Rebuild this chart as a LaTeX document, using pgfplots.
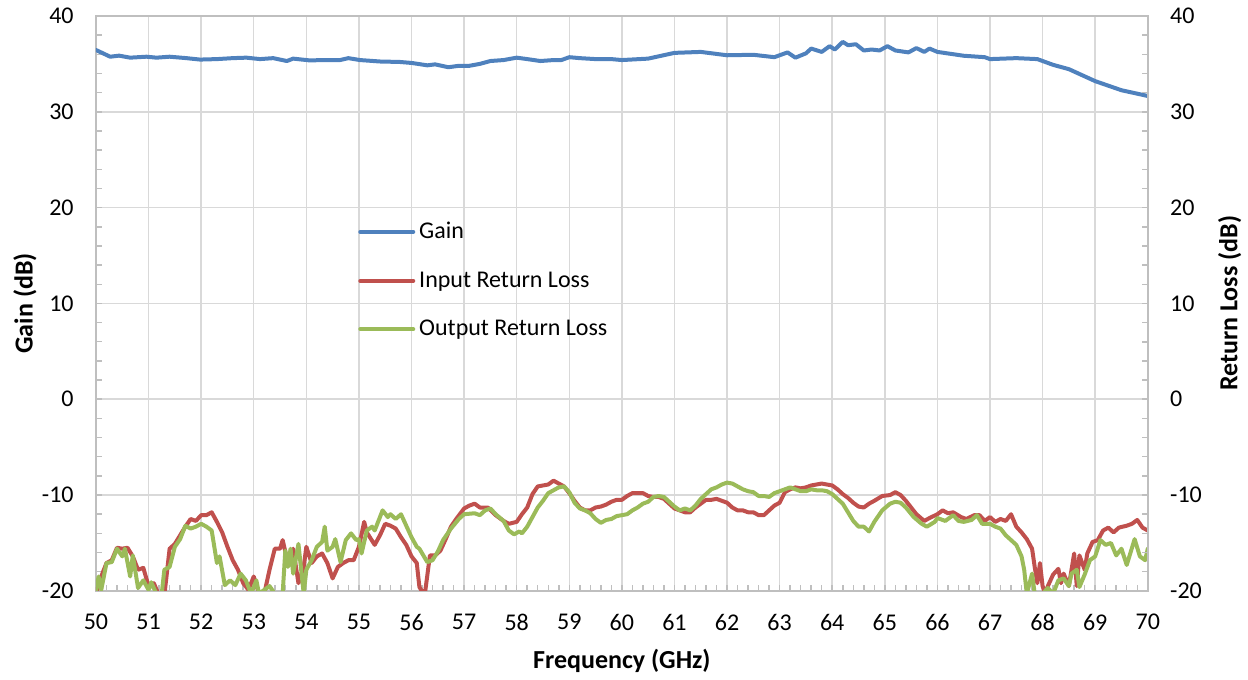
\documentclass[border=0pt]{standalone}
\usepackage{fontspec}
\setmainfont{Carlito}
\usepackage{pgfplots}
\pgfplotsset{compat=1.18}
\definecolor{gainblue}{HTML}{4F81BD}
\definecolor{inred}{HTML}{C0504D}
\definecolor{outgreen}{HTML}{9BBB59}
\definecolor{gridgray}{HTML}{D9D9D9}
\definecolor{axisgray}{HTML}{BFBFBF}
\begin{document}
\begin{tikzpicture}
\pgfplotsset{
  common/.style={
    scale only axis, width=526bp, height=287.5bp,
    xmin=50, xmax=70, ymin=-20, ymax=40,
    ytick={-20,-10,...,40},
    minor y tick num=4,
    tick align=inside,
    major tick length=3bp, minor tick length=3bp,
    tick style={color=axisgray, line width=0.75bp},
    axis line style={color=axisgray, line width=0.75bp},
    /pgf/number format/assume math mode=true,
    tick label style={font=\fontsize{12bp}{14bp}\selectfont, inner sep=0pt},
  }
}
\begin{axis}[common, name=main,
  xtick={50,51,...,70},
  minor x tick num=4,
  xtick pos=bottom, ytick pos=left,
  grid=major,
  major grid style={color=gridgray, line width=0.75bp},
  xticklabel style={anchor=north, yshift=-11.5bp},
  yticklabel style={anchor=east, xshift=-11bp},
  xlabel={\bfseries Frequency (GHz)},
  ylabel={\bfseries Gain (dB)},
  label style={font=\fontsize{13bp}{15bp}\selectfont},
  xlabel style={at={([yshift=-35bp]axis description cs:0.5,0)}, anchor=center},
  ylabel style={at={([xshift=-35.5bp]axis description cs:0,0.5)}, anchor=center},
  legend style={at={(rel axis cs:0.249,0.649)}, anchor=north west, draw=none, fill=none,
    inner sep=0pt, row sep=11bp, font=\fontsize{12bp}{14bp}\selectfont},
  legend cell align=left,
  /tikz/every even column/.append style={column sep=0pt},
  legend image code/.code={\draw[#1] (0bp,0bp) -- (26.5bp,0bp);},
  every axis plot/.append style={line width=2bp, line join=round, line cap=round},
]
\addplot[gainblue] coordinates {
(50.0,36.45) (50.27,35.75) (50.44,35.86) (50.65,35.65) (50.96,35.75) (51.15,35.65)
(51.4,35.75) (51.72,35.6) (51.98,35.45) (52.3,35.5) (52.6,35.6) (52.86,35.65)
(53.12,35.5) (53.37,35.6) (53.63,35.3) (53.75,35.55) (54.07,35.36) (54.3,35.4)
(54.64,35.4) (54.8,35.6) (55.02,35.4) (55.4,35.25) (55.78,35.2) (56.0,35.1)
(56.3,34.85) (56.45,34.95) (56.7,34.65) (56.9,34.8) (57.1,34.8) (57.3,35.0)
(57.5,35.3) (57.75,35.4) (58.0,35.65) (58.2,35.5) (58.45,35.3) (58.7,35.4)
(58.85,35.4) (59.0,35.7) (59.2,35.6) (59.5,35.5) (59.8,35.5) (60.0,35.4)
(60.5,35.55) (61.0,36.15) (61.5,36.25) (62.0,35.9) (62.5,35.95) (62.9,35.7)
(63.15,36.2) (63.3,35.65) (63.5,36.1) (63.6,36.6) (63.8,36.25) (63.95,36.85)
(64.05,36.5) (64.2,37.3) (64.3,36.95) (64.45,37.05) (64.6,36.4) (64.75,36.5)
(64.9,36.4) (65.05,36.85) (65.2,36.4) (65.45,36.2) (65.6,36.65) (65.75,36.25)
(65.85,36.6) (66.0,36.25) (66.5,35.85) (66.9,35.7) (67.0,35.5) (67.5,35.6)
(67.9,35.5) (68.2,34.9) (68.5,34.45) (69.0,33.2) (69.5,32.25) (70.0,31.65)
};
\addlegendentry{Gain}
\addplot[inred] coordinates {
(50.0,-20.3) (50.1,-18.5) (50.2,-17.1) (50.3,-16.8) (50.4,-15.5) (50.5,-15.6)
(50.6,-15.5) (50.7,-16.4) (50.8,-17.8) (50.9,-17.6) (51.0,-19.5) (51.1,-19.2)
(51.2,-20.5) (51.3,-20.5) (51.4,-15.6) (51.5,-15.1) (51.6,-14.2) (51.7,-13.3)
(51.8,-12.5) (51.9,-12.7) (52.0,-12.1) (52.1,-12.1) (52.2,-11.8) (52.3,-12.8)
(52.4,-13.9) (52.5,-15.4) (52.6,-16.8) (52.7,-17.8) (52.8,-19.2) (52.9,-19.9)
(53.0,-18.5) (53.1,-20.3) (53.2,-20.3) (53.3,-17.8) (53.4,-15.6) (53.5,-15.6)
(53.55,-14.7) (53.65,-17.1) (53.75,-15.6) (53.85,-19.2) (53.95,-17.5) (54.0,-15.4)
(54.1,-17.1) (54.2,-16.4) (54.3,-16.1) (54.4,-17.1) (54.5,-18.7) (54.6,-17.5)
(54.7,-17.1) (54.8,-16.8) (54.9,-16.8) (55.0,-15.4) (55.1,-12.8) (55.15,-13.9)
(55.3,-15.2) (55.4,-14.2) (55.5,-13.0) (55.6,-13.2) (55.7,-13.5) (55.8,-14.4)
(55.9,-15.2) (56.0,-16.4) (56.1,-17.1) (56.15,-19.6) (56.25,-20.5) (56.35,-16.3)
(56.45,-16.3) (56.55,-15.8) (56.65,-14.6) (56.75,-13.3) (56.85,-12.5) (57.0,-11.4)
(57.1,-11.1) (57.2,-10.9) (57.3,-11.3) (57.45,-11.3) (57.6,-12.1) (57.75,-12.7)
(57.85,-13.0) (58.0,-12.8) (58.1,-12.0) (58.2,-11.3) (58.3,-9.9) (58.4,-9.1)
(58.5,-9.0) (58.6,-8.9) (58.7,-8.5) (58.8,-8.8) (58.9,-9.1) (59.0,-9.8)
(59.1,-10.6) (59.2,-11.3) (59.3,-11.6) (59.4,-11.6) (59.5,-11.3) (59.6,-11.2)
(59.7,-11.0) (59.8,-10.7) (59.9,-10.5) (60.0,-10.5) (60.1,-10.1) (60.2,-9.8)
(60.3,-9.8) (60.4,-9.8) (60.5,-10.1) (60.6,-10.2) (60.7,-10.2) (60.8,-10.4)
(60.9,-10.9) (61.0,-11.4) (61.1,-11.6) (61.2,-11.8) (61.3,-11.8) (61.4,-11.3)
(61.5,-10.9) (61.6,-10.5) (61.7,-10.5) (61.8,-10.4) (61.9,-10.6) (62.0,-10.8)
(62.1,-11.3) (62.2,-11.6) (62.3,-11.6) (62.4,-11.8) (62.5,-11.8) (62.6,-12.1)
(62.7,-12.1) (62.8,-11.6) (62.9,-11.1) (63.0,-10.8) (63.1,-9.7) (63.2,-9.4)
(63.3,-9.2) (63.4,-9.3) (63.5,-9.2) (63.6,-9.0) (63.7,-8.9) (63.8,-8.8)
(63.9,-8.9) (64.0,-9.0) (64.1,-9.4) (64.2,-9.9) (64.3,-10.3) (64.4,-10.8)
(64.5,-11.2) (64.6,-11.3) (64.7,-10.9) (64.8,-10.6) (64.95,-10.1) (65.1,-10.0)
(65.2,-9.7) (65.3,-10.0) (65.4,-10.6) (65.5,-11.3) (65.6,-12.0) (65.75,-12.7)
(65.85,-12.4) (66.0,-12.0) (66.1,-11.6) (66.2,-11.9) (66.3,-11.8) (66.45,-12.3)
(66.55,-12.5) (66.7,-12.1) (66.8,-12.1) (66.9,-12.7) (67.0,-12.3) (67.1,-12.8)
(67.2,-12.5) (67.3,-12.7) (67.4,-12.0) (67.5,-13.3) (67.6,-13.9) (67.7,-14.6)
(67.8,-15.6) (67.85,-17.5) (67.9,-19.2) (67.95,-17.1) (68.0,-19.5) (68.05,-20.3)
(68.1,-19.5) (68.2,-18.3) (68.3,-17.7) (68.35,-19.2) (68.4,-18.2) (68.5,-19.5)
(68.55,-17.8) (68.6,-16.1) (68.65,-19.5) (68.7,-16.3) (68.8,-17.8) (68.85,-16.1)
(68.95,-14.9) (69.05,-14.7) (69.15,-13.7) (69.25,-13.4) (69.35,-13.9) (69.45,-13.4)
(69.6,-13.2) (69.7,-13.0) (69.8,-12.6) (69.9,-13.4) (70.0,-13.7)
};
\addlegendentry{Input Return Loss}
\addplot[outgreen] coordinates {
(50.0,-20.0) (50.05,-18.5) (50.1,-19.9) (50.2,-17.1) (50.3,-17.0) (50.4,-15.6)
(50.5,-16.4) (50.55,-15.6) (50.65,-18.5) (50.7,-16.3) (50.8,-19.7) (50.9,-18.9)
(51.0,-19.9) (51.05,-19.1) (51.15,-20.3) (51.25,-20.3) (51.3,-17.8) (51.4,-17.5)
(51.5,-15.4) (51.6,-14.6) (51.7,-13.2) (51.8,-13.5) (51.9,-13.3) (52.0,-13.0)
(52.1,-13.3) (52.2,-13.7) (52.3,-17.1) (52.35,-16.4) (52.45,-19.4) (52.55,-18.9)
(52.65,-19.4) (52.75,-18.2) (52.85,-18.9) (52.95,-20.3) (53.05,-18.9) (53.1,-20.3)
(53.3,-19.5) (53.4,-20.3) (53.55,-20.3) (53.6,-15.8) (53.65,-17.5) (53.7,-15.6)
(53.75,-18.2) (53.85,-15.1) (53.95,-20.3) (54.0,-17.8) (54.1,-16.8) (54.2,-15.4)
(54.3,-14.9) (54.35,-13.3) (54.4,-15.8) (54.5,-15.4) (54.55,-14.6) (54.65,-17.0)
(54.75,-14.7) (54.85,-14.0) (54.95,-14.7) (55.0,-14.6) (55.05,-16.1) (55.15,-13.7)
(55.25,-13.3) (55.3,-13.7) (55.45,-11.6) (55.55,-12.3) (55.6,-12.0) (55.7,-12.5)
(55.8,-12.0) (55.9,-13.2) (56.0,-14.4) (56.1,-15.4) (56.15,-15.6) (56.3,-17.0)
(56.4,-16.8) (56.5,-15.9) (56.6,-14.7) (56.75,-13.5) (56.9,-12.5) (57.0,-12.0)
(57.2,-11.9) (57.3,-12.1) (57.4,-11.6) (57.5,-11.4) (57.6,-12.0) (57.75,-12.7)
(57.85,-13.7) (57.95,-14.1) (58.05,-13.8) (58.1,-14.0) (58.2,-13.3) (58.3,-12.3)
(58.4,-11.3) (58.5,-10.6) (58.6,-9.8) (58.7,-9.5) (58.8,-9.2) (58.9,-9.1)
(59.0,-9.7) (59.1,-10.8) (59.2,-11.4) (59.3,-11.6) (59.4,-11.9) (59.5,-12.5)
(59.6,-12.9) (59.7,-12.6) (59.8,-12.5) (59.9,-12.2) (60.0,-12.1) (60.1,-12.0)
(60.2,-11.6) (60.3,-11.3) (60.4,-10.9) (60.5,-10.7) (60.6,-10.2) (60.7,-10.1)
(60.8,-10.2) (60.9,-10.7) (61.0,-11.2) (61.1,-11.6) (61.2,-11.4) (61.3,-11.6)
(61.4,-11.1) (61.5,-10.4) (61.6,-9.9) (61.7,-9.4) (61.8,-9.2) (61.9,-8.9)
(62.0,-8.7) (62.1,-8.8) (62.2,-9.1) (62.3,-9.4) (62.4,-9.6) (62.5,-9.7)
(62.6,-10.1) (62.7,-10.1) (62.8,-10.2) (62.9,-9.8) (63.0,-9.6) (63.1,-9.4)
(63.2,-9.2) (63.3,-9.4) (63.4,-9.6) (63.5,-9.6) (63.6,-9.4) (63.7,-9.5)
(63.8,-9.5) (63.9,-9.6) (64.0,-9.9) (64.1,-10.4) (64.2,-10.9) (64.3,-11.8)
(64.4,-12.7) (64.5,-13.3) (64.6,-13.3) (64.7,-13.8) (64.8,-12.8) (64.95,-11.6)
(65.1,-10.9) (65.2,-10.7) (65.3,-10.8) (65.4,-11.3) (65.55,-12.3) (65.7,-13.0)
(65.8,-13.3) (65.95,-12.8) (66.0,-12.4) (66.15,-12.7) (66.3,-12.1) (66.4,-12.7)
(66.5,-12.8) (66.65,-12.6) (66.75,-12.1) (66.85,-13.0) (67.0,-13.0) (67.1,-13.3)
(67.2,-13.5) (67.3,-14.2) (67.4,-14.7) (67.5,-15.2) (67.6,-16.4) (67.65,-17.8)
(67.7,-20.3) (67.8,-18.2) (67.85,-20.3) (68.0,-20.3) (68.1,-19.7) (68.2,-20.3)
(68.3,-18.9) (68.4,-18.7) (68.5,-19.5) (68.55,-18.2) (68.65,-17.8) (68.7,-19.6)
(68.8,-18.3) (68.9,-16.8) (69.0,-16.4) (69.1,-14.7) (69.2,-15.2) (69.3,-15.0)
(69.4,-16.3) (69.5,-15.6) (69.6,-17.3) (69.75,-14.6) (69.85,-16.4) (69.95,-16.8)
(70.0,-15.6)
};
\addlegendentry{Output Return Loss}
\end{axis}
\begin{axis}[common,
  axis x line=none,
  axis y line*=right,
  yticklabel style={anchor=west, xshift=11bp},
  ylabel={\bfseries Return Loss (dB)},
  label style={font=\fontsize{13bp}{15bp}\selectfont},
  ylabel style={at={([xshift=41bp]axis description cs:1,0.5)}, anchor=center},
]
\addplot[draw=none] coordinates {(50,0)};
\end{axis}
\path ([xshift=-48bp,yshift=-42.5bp]main.south west) rectangle ([xshift=50bp,yshift=8bp]main.north east);
\end{tikzpicture}
\end{document}
